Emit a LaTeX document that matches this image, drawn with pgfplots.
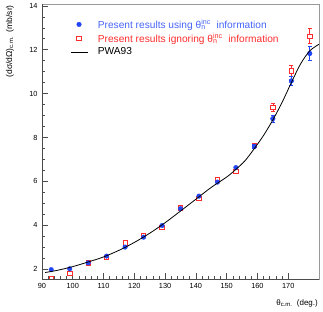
\documentclass[border=0pt]{standalone}
\usepackage{fontspec}
\setmainfont{Liberation Sans}
\usepackage{pgfplots}
\usepackage{pgfplotstable}
\pgfplotsset{compat=1.18}
\definecolor{pblue}{RGB}{35,70,245}
\definecolor{lblue}{RGB}{70,100,250}
\definecolor{pred}{RGB}{255,45,45}

\pgfplotstableread{
x b eb r er
93 1.98 0 1.59 0
99 2.02 0 1.80 0
105 2.29 0 2.29 0
111 2.60 0 2.53 0
117 3.01 0 3.20 0
123 3.46 0 3.53 0
129 3.99 0 3.91 0
135 4.76 0 4.80 0
141 5.33 0 5.24 0
147 5.97 0 6.08 0
153 6.63 0 6.47 0
159 7.60 0.08 7.64 0.10
165 8.86 0.15 9.38 0.19
171 10.58 0.20 11.03 0.25
177 11.83 0.32 12.62 0.34
}\data

\pgfplotstableread{
x y
91 1.85
95 1.95
100 2.12
105 2.33
110 2.56
115 2.86
120 3.22
125 3.64
130 4.12
135 4.65
140 5.19
145 5.73
150 6.20
153 6.55
156 6.95
159 7.50
162 8.10
165 8.80
168 9.60
171 10.50
174 11.35
177 11.95
180 12.25
}\pwa

\begin{document}
\begin{tikzpicture}
\begin{axis}[
  scale only axis, width=277bp, height=275bp,
  xmin=90, xmax=180, ymin=1.55, ymax=14.08,
  xtick={90,100,...,170}, minor x tick num=4,
  ytick={2,4,...,14}, minor y tick num=3,
  tick align=inside, xtick pos=bottom, ytick pos=left,
  major tick length=6bp, minor tick length=3bp,
  axis line style={black!40, line width=0.5pt},
  tick style={black!70, line width=0.6pt},
  ticklabel style={font=\fontsize{7.4}{8}\selectfont},
  /pgf/number format/assume math mode=true,
  /pgf/number format/1000 sep={},
  xticklabel style={yshift=-1bp},
  yticklabel style={xshift=-1bp},
  clip marker paths=true,
  legend cell align=left,
  legend style={at={(rel axis cs:0.09,0.96)}, anchor=north west, draw=none, fill=none,
    font=\fontsize{10.2}{12}\selectfont, row sep=0bp, column sep=8bp},
]
\addlegendimage{pblue, only marks, mark=*, mark size=2.3bp, mark options={draw=pblue, fill=pblue}}
\addlegendentry{\textcolor{lblue}{Present results using θ\rlap{\textsubscript{n}}\textsuperscript{inc}\ \ information}}
\addlegendimage{pred, only marks, mark=square*, mark size=2.2bp, line width=0.8pt, mark options={draw=pred, fill=white}}
\addlegendentry{\textcolor{pred}{Present results ignoring θ\rlap{\textsubscript{n}}\textsuperscript{inc}\ \ information}}
\addlegendimage{black, line width=0.8pt}
\addlegendentry{PWA93}

% red error bars
\addplot[forget plot, pred, only marks, mark=none,
  restrict x to domain=155:180,
  error bars/.cd, y dir=both, y explicit,
  error bar style={pred, line width=0.6pt},
  error mark options={pred, rotate=90, mark size=2bp, line width=0.6pt}]
  table[x=x, y=r, y error=er] {\data};
\addplot[forget plot, pred, only marks, mark=square*, mark size=2.2bp, line width=0.8pt,
  mark options={draw=pred, fill=white}]
  table[x=x, y=r] {\data};
% blue error bars
\addplot[forget plot, pblue, only marks, mark=none,
  restrict x to domain=155:180,
  error bars/.cd, y dir=both, y explicit,
  error bar style={pblue, line width=0.6pt},
  error mark options={pblue, rotate=90, mark size=2bp, line width=0.6pt}]
  table[x=x, y=b, y error=eb] {\data};
\addplot[forget plot, pblue, only marks, mark=*, mark size=2.3bp,
  mark options={draw=pblue, fill=pblue}]
  table[x=x, y=b] {\data};
% PWA93
\addplot[forget plot, black, line width=0.8pt, smooth, mark=none] table[x=x, y=y] {\pwa};
\end{axis}
\draw[black!70, line width=0.6pt] (0bp,275bp) -- (0bp,0bp) -- (277bp,0bp);
\node[anchor=east, font=\fontsize{8}{9}\selectfont, inner sep=0pt] at (276bp,-24bp)
  {θ\textsubscript{c.m.}\ \ (deg.)};
\node[anchor=east, rotate=90, font=\fontsize{8.5}{10}\selectfont, inner sep=0pt] at (-32bp,274bp)
  {(dσ/dΩ)\textsubscript{c.m.}\ \ (mb/sr)};
\path[use as bounding box] (-42bp,-32bp) rectangle (281bp,279bp);
\end{tikzpicture}
\end{document}
